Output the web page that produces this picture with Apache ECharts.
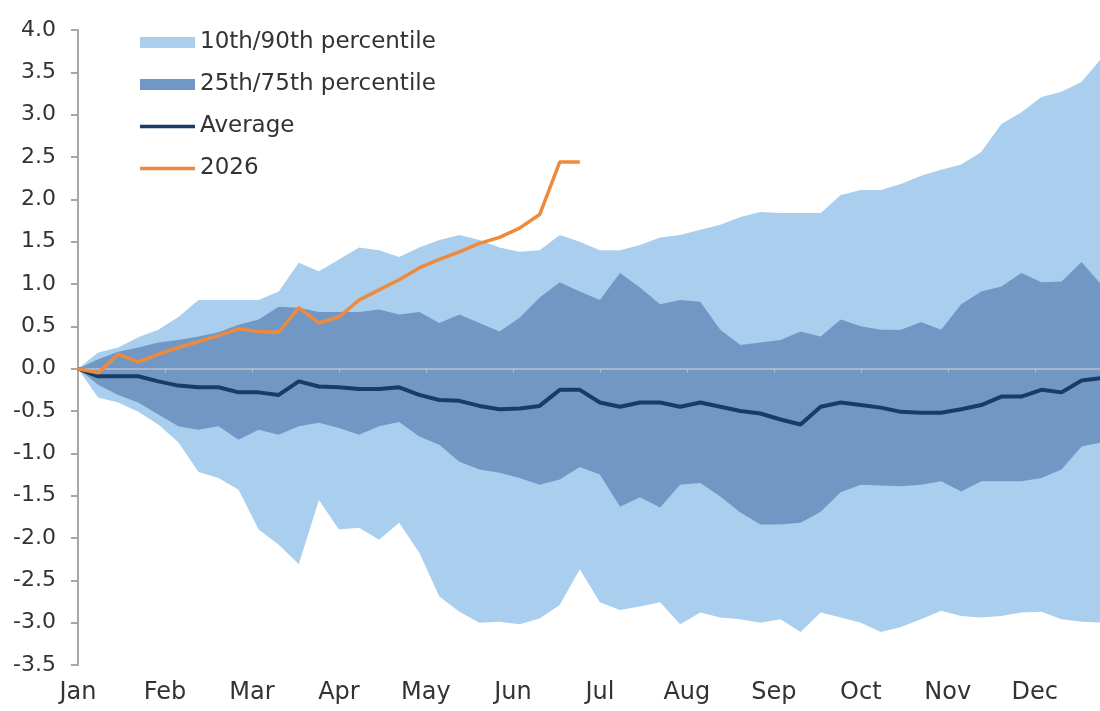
<!DOCTYPE html>
<html>
<head>
<meta charset="utf-8">
<style>
html, body { margin:0; padding:0; background:#fff; }
#main { width:1100px; height:711px; }
</style>
<script src="https://cdn.jsdelivr.net/npm/echarts@6/dist/echarts.min.js"></script>
</head>
<body>
<div id="main"></div>
<script type="text/javascript">
// weekly points, week 0 = start of Jan
var months = ['Jan','Feb','Mar','Apr','May','Jun','Jul','Aug','Sep','Oct','Nov','Dec'];
var yTicks = [-3.5, 4.0, 0.5]; // min, max, step

var p90 = [0, 0.19, 0.25, 0.37, 0.46, 0.61, 0.81, 0.81, 0.81, 0.81, 0.91, 1.25, 1.15, 1.29, 1.43, 1.40, 1.32, 1.43, 1.52, 1.58,
  1.52, 1.43, 1.38, 1.40, 1.58, 1.50, 1.40, 1.40, 1.46, 1.55, 1.58, 1.64, 1.70, 1.79, 1.85, 1.84, 1.84, 1.84, 2.05, 2.11,
  2.11, 2.18, 2.28, 2.35, 2.41, 2.56, 2.89, 3.03, 3.21, 3.27, 3.39, 3.67];
var p10 = [0, -0.34, -0.40, -0.51, -0.66, -0.87, -1.22, -1.29, -1.43, -1.90, -2.08, -2.31, -1.55, -1.90, -1.88, -2.02, -1.82, -2.17, -2.69, -2.87,
  -3.00, -2.99, -3.02, -2.95, -2.79, -2.37, -2.76, -2.85, -2.81, -2.76, -3.02, -2.88, -2.94, -2.96, -3.00, -2.96, -3.11, -2.88, -2.94, -3.00,
  -3.11, -3.05, -2.96, -2.86, -2.92, -2.94, -2.92, -2.88, -2.87, -2.96, -2.99, -3.00];
var p75 = [0, 0.11, 0.20, 0.25, 0.31, 0.34, 0.38, 0.43, 0.52, 0.58, 0.73, 0.72, 0.67, 0.67, 0.67, 0.70, 0.64, 0.67, 0.54, 0.64,
  0.54, 0.44, 0.60, 0.84, 1.02, 0.91, 0.81, 1.13, 0.96, 0.76, 0.81, 0.79, 0.46, 0.28, 0.31, 0.34, 0.44, 0.38, 0.58, 0.50,
  0.46, 0.46, 0.55, 0.46, 0.76, 0.91, 0.97, 1.13, 1.02, 1.03, 1.26, 0.99];
var p25 = [0, -0.19, -0.31, -0.40, -0.54, -0.68, -0.72, -0.68, -0.84, -0.72, -0.78, -0.68, -0.64, -0.70, -0.78, -0.68, -0.63, -0.80, -0.90, -1.10,
  -1.19, -1.23, -1.29, -1.37, -1.31, -1.16, -1.25, -1.63, -1.52, -1.64, -1.37, -1.35, -1.51, -1.70, -1.84, -1.84, -1.82, -1.69, -1.46, -1.37,
  -1.38, -1.39, -1.37, -1.33, -1.45, -1.33, -1.33, -1.33, -1.29, -1.19, -0.92, -0.87];
var avg = [0, -0.09, -0.09, -0.09, -0.15, -0.20, -0.22, -0.22, -0.28, -0.28, -0.31, -0.15, -0.21, -0.22, -0.24, -0.24, -0.22, -0.31, -0.37, -0.38,
  -0.44, -0.48, -0.47, -0.44, -0.25, -0.25, -0.40, -0.45, -0.40, -0.40, -0.45, -0.40, -0.45, -0.50, -0.53, -0.60, -0.66, -0.45, -0.40, -0.43,
  -0.46, -0.51, -0.52, -0.52, -0.48, -0.43, -0.33, -0.33, -0.25, -0.28, -0.14, -0.11];
var y2026 = [0, -0.05, 0.17, 0.08, 0.17, 0.25, 0.32, 0.39, 0.47, 0.44, 0.43, 0.72, 0.54, 0.61, 0.81, 0.93, 1.05, 1.19, 1.29, 1.38,
  1.48, 1.55, 1.66, 1.82, 2.44, 2.44];

var lightBlue = '#aacfee';
var darkBlue = '#7198c5';
var avgColor = '#173d66';
var orange = '#ee8a3d';
var font = 'DejaVu Sans';
var lineIcon = 'path://M0,0L55,0L55,3.5L0,3.5Z';

// week index -> month position on the x axis
function pts(arr){
    var out = [];
    for(var i = 0; i < arr.length; i++){
        out.push([i * 12 / 52, arr[i]]);
    }
    return out;
}

// the bands straddle zero, so each edge is filled to zero; the light pair first, the dark pair on top
function band(name, arr, color, z){
    return {
        name: name, type: 'line', symbol: 'none', color: color, z: z,
        lineStyle: {width: 0, opacity: 0},
        areaStyle: {color: color, opacity: 1, origin: 0},
        data: pts(arr)
    };
}

var myChart = echarts.init(document.getElementById('main'));

option = {
    animation: false,
    grid: {left: 78, right: 0, top: 30, bottom: 46, containLabel: false},
    legend: {
        orient: 'vertical',
        left: 135,
        top: 26,
        itemWidth: 55,
        itemHeight: 11,
        itemGap: 19,
        textStyle: {fontFamily: font, fontSize: 23, color: '#333'},
        data: [
            {name: '10th/90th percentile', icon: 'rect', itemStyle: {color: lightBlue, opacity: 1}},
            {name: '25th/75th percentile', icon: 'rect', itemStyle: {color: darkBlue, opacity: 1}},
            {name: 'Average', icon: lineIcon, itemStyle: {color: avgColor}},
            {name: '2026', icon: lineIcon, itemStyle: {color: orange}}
        ]
    },
    xAxis: [
        {
            type: 'value', min: 0, max: 11.75, interval: 1,
            axisLine: {show: false, onZero: false},
            axisTick: {show: false},
            splitLine: {show: false},
            axisLabel: {
                margin: 16,
                fontFamily: font, fontSize: 24, color: '#333',
                showMaxLabel: false,
                formatter: function(v){ return Number.isInteger(v) ? months[v] : ''; }
            }
        },
        {
            type: 'value', min: 0, max: 11.75, interval: 1, position: 'bottom', z: 3,
            axisLine: {show: true, onZero: true, lineStyle: {color: '#b4bfcd', width: 1.5}},
            axisTick: {show: true, length: 4, lineStyle: {color: '#b4bfcd'}},
            axisLabel: {show: false},
            splitLine: {show: false}
        }
    ],
    yAxis: {
        type: 'value', min: yTicks[0], max: yTicks[1], interval: yTicks[2],
        axisLine: {show: true, onZero: false, lineStyle: {color: '#a8a8a8', width: 2}},
        axisTick: {show: true, length: 7, lineStyle: {color: '#a8a8a8', width: 2}},
        splitLine: {show: false},
        axisLabel: {
            margin: 22, fontFamily: font, fontSize: 22, color: '#333',
            formatter: function(v){ return v.toFixed(1); }
        }
    },
    series: [
        band('10th/90th percentile', p90, lightBlue, 1),
        band('10th/90th percentile', p10, lightBlue, 1),
        band('25th/75th percentile', p75, darkBlue, 2),
        band('25th/75th percentile', p25, darkBlue, 2),
        {
            name: 'Average', type: 'line', symbol: 'none', color: avgColor, z: 5,
            lineStyle: {color: avgColor, width: 4},
            data: pts(avg)
        },
        {
            name: '2026', type: 'line', symbol: 'none', color: orange, z: 6,
            lineStyle: {color: orange, width: 3.5},
            data: pts(y2026)
        }
    ]
};

myChart.setOption(option);
</script>
</body>
</html>
